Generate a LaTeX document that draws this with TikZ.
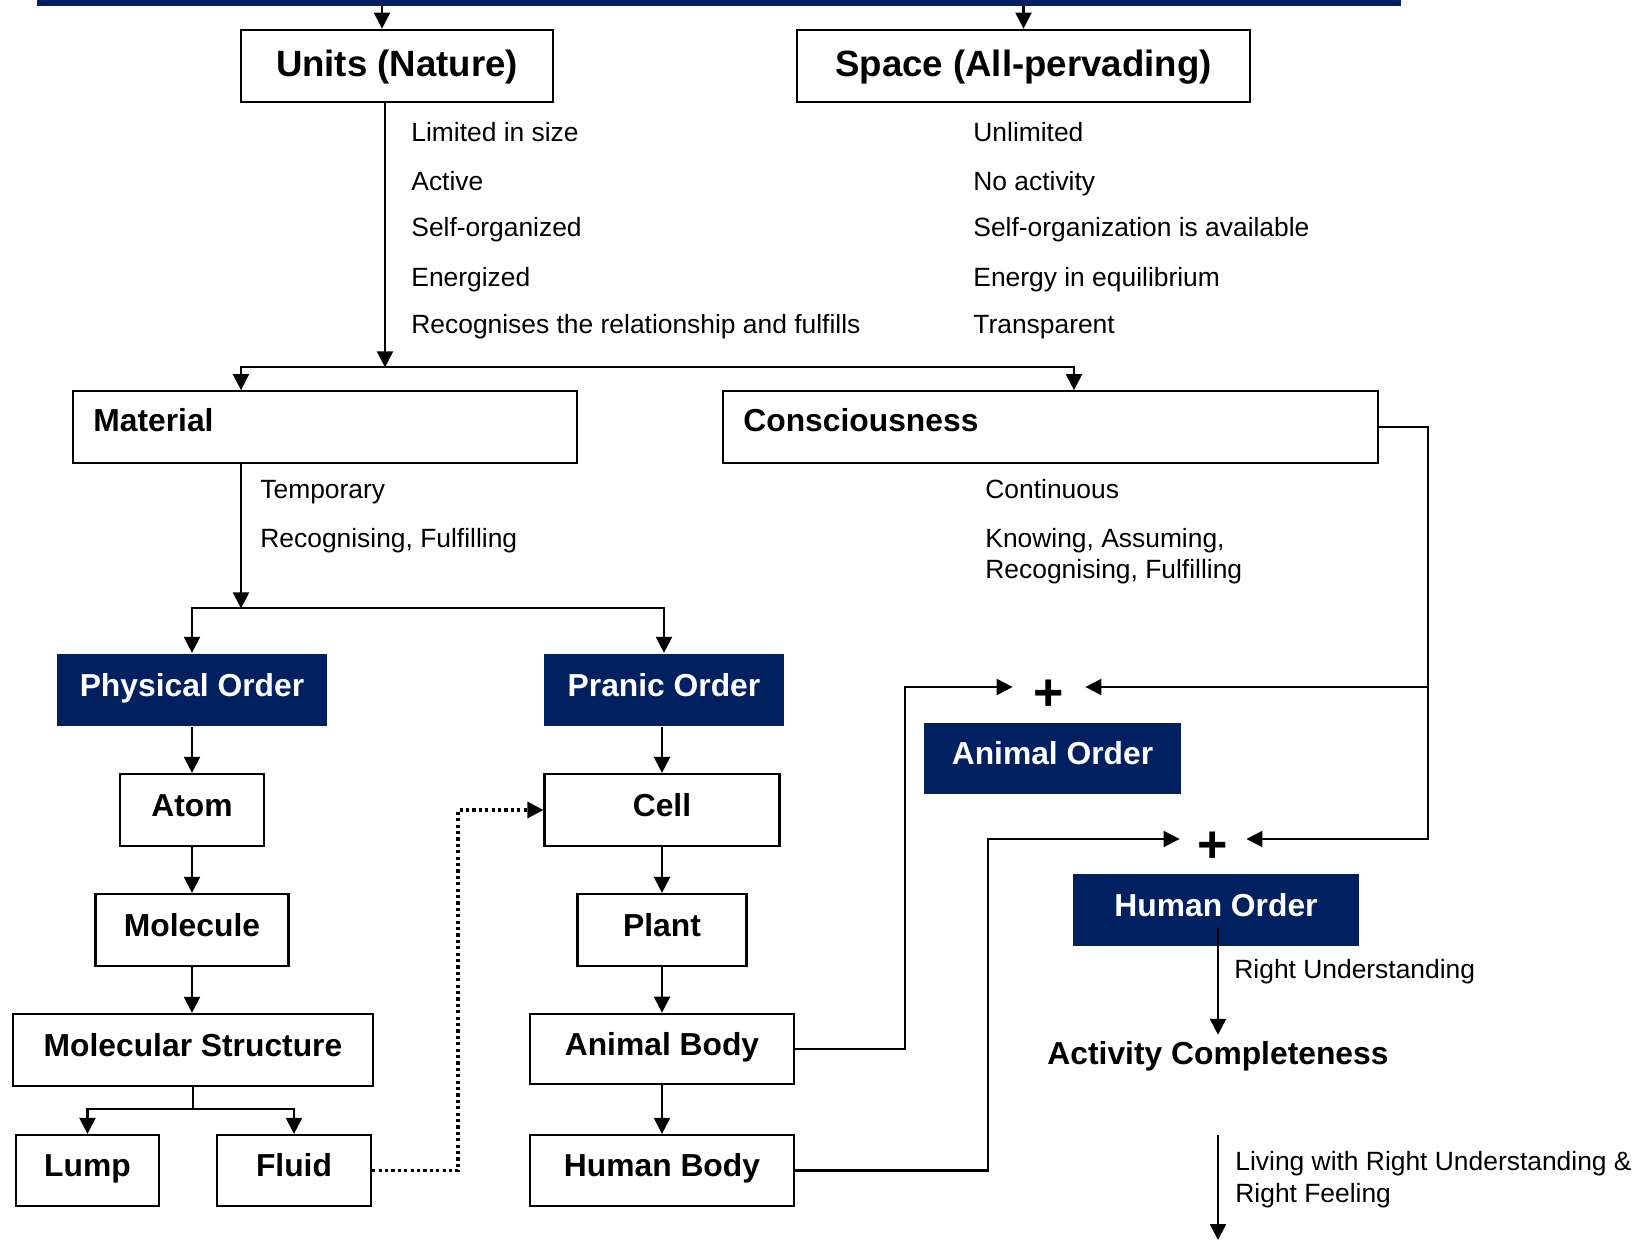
\documentclass[tikz,border=0pt]{standalone}
\usepackage{fontspec}
\setmainfont{Liberation Sans}
\usetikzlibrary{arrows.meta,calc}
\definecolor{navy}{RGB}{0,32,96}
\begin{document}
\begin{tikzpicture}[x=0.5pt,y=-0.5pt,
  line/.style={line width=1.1pt},
  arr/.style={line width=1.1pt,-{Triangle[length=8pt,width=8pt]}},
  dotarr/.style={line width=1.7pt,dash pattern=on 1.6pt off 1.6pt,-{Triangle[length=8pt,width=8pt]}},
  box/.style={draw,line width=1.1pt,fill=white,inner sep=0pt,text height=11.45pt,text depth=5.1pt,font=\fontsize{15.9pt}{18pt}\selectfont\bfseries},
  topbox/.style={box,text height=13.2pt,text depth=3.1pt,font=\fontsize{18.3pt}{22pt}\selectfont\bfseries},
  navybox/.style={box,draw=none,fill=navy,text=white},
  lbl/.style={anchor=base west,inner sep=0pt,font=\fontsize{13.2pt}{16pt}\selectfont},
  hdr/.style={anchor=base west,inner sep=0pt,font=\fontsize{15.9pt}{18pt}\selectfont\bfseries},
  plussign/.style={inner sep=0pt,minimum height=20pt,font=\fontsize{26pt}{30pt}\selectfont\bfseries},
]
\useasboundingbox (0,0) rectangle (1652,1240);

% top bar
\node[fill=navy,inner sep=0pt,minimum width=682pt,minimum height=3pt] (bar) at (719,3) {};

% boxes
\node[topbox,minimum width=156pt,minimum height=36.25pt] (units) at (397,66) {Units (Nature)};
\node[topbox,minimum width=226.5pt,minimum height=36.25pt] (space) at (1023.5,66) {Space (All-pervading)};
\node[box,minimum width=252pt,minimum height=35.75pt] (material) at (325,427) {};
\node[box,minimum width=327.5pt,minimum height=35.75pt] (consciousness) at (1050.5,427) {};
\node[hdr] (materiallbl) at (93,431.5) {Material};
\node[hdr] (consciouslbl) at (743,431.5) {Consciousness};

\node[navybox,minimum width=135pt,minimum height=36pt] (physical) at (192,690) {Physical Order};
\node[navybox,minimum width=120pt,minimum height=36pt] (pranic) at (664,690) {Pranic Order};

\node[box,minimum width=72pt,minimum height=36pt] (atom) at (192,810) {Atom};
\node[box,minimum width=96.5pt,minimum height=36pt] (molecule) at (192,930) {Molecule};
\node[box,minimum width=180pt,minimum height=36pt] (molstruct) at (193,1050) {Molecular Structure};
\node[box,minimum width=71.5pt,minimum height=35.5pt] (lump) at (87.5,1170.5) {Lump};
\node[box,minimum width=77pt,minimum height=35.5pt] (fluid) at (294,1170.5) {Fluid};

\node[box,minimum width=117.5pt,minimum height=36pt] (cell) at (662,810) {Cell};
\node[box,minimum width=84.5pt,minimum height=36pt] (plant) at (662,930) {Plant};
\node[box,minimum width=132pt,minimum height=35.25pt] (animalbody) at (662,1049) {Animal Body};
\node[box,minimum width=132pt,minimum height=35.5pt] (humanbody) at (662,1170.5) {Human Body};

\node[navybox,minimum width=128.5pt,minimum height=35.5pt] (animalorder) at (1052.5,758.5) {Animal Order};
\node[navybox,minimum width=143pt,minimum height=35.75pt] (humanorder) at (1216,910) {Human Order};

\node[plussign,minimum width=36pt] (plus1) at (1049,695) {+};
\node[plussign,minimum width=33pt] (plus2) at (1213,847) {+};

\node[inner sep=3pt,font=\fontsize{15.9pt}{18pt}\selectfont\bfseries] (activity) at (1218,1056) {Activity Completeness};

% labels
\node[lbl] (u1) at (411,142) {Limited in size};
\node[lbl] (u2) at (411,191) {Active};
\node[lbl] (u3) at (411,237) {Self-organized};
\node[lbl] (u4) at (411,287) {Energized};
\node[lbl] (u5) at (411,334) {Recognises the relationship and fulfills};
\node[lbl] (s1) at (973,142) {Unlimited};
\node[lbl] (s2) at (973,191) {No activity};
\node[lbl] (s3) at (973,237) {Self-organization is available};
\node[lbl] (s4) at (973,287) {Energy in equilibrium};
\node[lbl] (s5) at (973,334) {Transparent};
\node[lbl] (m1) at (260,498.5) {Temporary};
\node[lbl] (m2) at (260,547) {Recognising, Fulfilling};
\node[lbl] (c1) at (985,498.5) {Continuous};
\node[lbl] (c2) at (985,547) {Knowing, Assuming,};
\node[lbl] (c3) at (985,578.5) {Recognising, Fulfilling};
\node[lbl] (h1) at (1234,978.5) {Right Understanding};
\node[lbl] (l1) at (1235,1170.5) {Living with Right Understanding \&};
\node[lbl] (l2) at (1235,1202) {Right Feeling};

% connectors
\coordinate (ua) at ($(units.north)+(-15,0)$);
\draw[arr] (ua |- bar.south) -- (ua);
\draw[arr] (space.north |- bar.south) -- (space.north);

\coordinate (ub) at ($(units.south)+(-12,0)$);
\coordinate (j1) at ($(ub)+(0,264)$);
\coordinate (ma) at ($(material.north)+(-84,0)$);
\coordinate (ca) at ($(consciousness.north)+(23.5,0)$);
\draw[arr] (ub) -- (j1);
\draw[arr] (j1) -| (ma);
\draw[arr] (j1) -| (ca);

\coordinate (mb) at ($(material.south)+(-84,0)$);
\coordinate (j2) at ($(mb)+(0,144.5)$);
\draw[arr] (mb) -- (j2);
\draw[arr] (j2) -| (physical.north);
\draw[arr] (j2) -| (pranic.north);

\draw[arr] (physical.south) -- (atom.north);
\draw[arr] (atom.south) -- (molecule.north);
\draw[arr] (molecule.south) -- (molstruct.north -| molecule.south);
\coordinate (j3) at ($(molstruct.south)+(0,22)$);
\draw[line] (molstruct.south) -- (j3);
\draw[arr] (j3) -| (lump.north);
\draw[arr] (j3) -| (fluid.north);

\draw[arr] (pranic.south -| cell.north) -- (cell.north);
\draw[arr] (cell.south) -- (plant.north);
\draw[arr] (plant.south) -- (animalbody.north);
\draw[arr] (animalbody.south) -- (humanbody.north);

\draw[dotarr] (fluid.east) -- ++(86,0) |- (cell.west);

\coordinate (p1l) at ($(plus1.west)+(0,-8)$);
\coordinate (p1r) at ($(plus1.east)+(0,-8)$);
\coordinate (p2l) at ($(plus2.west)+(0,-8)$);
\coordinate (p2r) at ($(plus2.east)+(0,-8)$);

\draw[arr] (animalbody.east) -- ++(110,0) |- (p1l);
\draw[arr] (humanbody.east) -- ++(193,0) |- (p2l);

\coordinate (rtop) at ($(consciousness.east)+(49,0)$);
\draw[arr] (consciousness.east) -- (rtop) |- (p2r);
\draw[arr] (rtop |- p1r) -- (p1r);

\draw[arr] ($(humanorder.south -| activity.north)+(0,-19)$) -- (activity.north);
\coordinate (bend) at (1218,1240);
\draw[arr] ($(activity.south)+(0,58)$) -- (bend);
\end{tikzpicture}
\end{document}
